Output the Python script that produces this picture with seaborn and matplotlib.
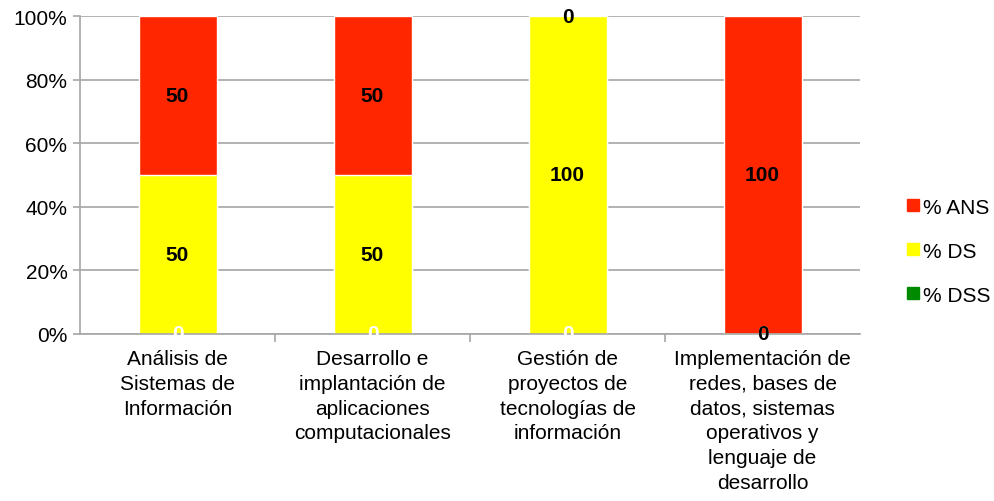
import pandas as pd
import numpy as np
import matplotlib
matplotlib.use('Agg')
import matplotlib.pyplot as plt
import seaborn as sns
from matplotlib.patches import Patch

categorias = ['Análisis de\nSistemas de\nInformación',
              'Desarrollo e\nimplantación de\naplicaciones\ncomputacionales',
              'Gestión de\nproyectos de\ntecnologías de\ninformación',
              'Implementación de\nredes, bases de\ndatos, sistemas\noperativos y\nlenguaje de\ndesarrollo']
dss = [0, 0, 0, 0]
ds = [50, 50, 100, 0]
ans = [50, 50, 0, 100]

c_ans = '#ff2600'
c_ds = '#ffff00'
c_dss = '#008a00'

sns.set_style('white')
plt.rcParams['font.family'] = ['Liberation Sans', 'DejaVu Sans']
plt.rcParams['text.color'] = 'black'
plt.rcParams['xtick.color'] = 'black'
plt.rcParams['ytick.color'] = 'black'

df = pd.DataFrame({'cat': categorias, 'dss': dss, 'ds': ds, 'ans': ans})
df['low'] = df.dss
df['mid'] = df.dss + df.ds
df['top'] = df.dss + df.ds + df.ans

fig = plt.figure(figsize=(9.95, 5.02), dpi=100)
ax = fig.add_axes([0.0804, 0.333, 0.784, 0.633])
ax.set_axisbelow(True)
ax.yaxis.grid(True, color='#a6a6a6', linewidth=1.2)

wd = 0.4
sns.barplot(data=df, x='cat', y='top', color=c_ans, width=wd, saturation=1, ax=ax)
sns.barplot(data=df, x='cat', y='mid', color=c_ds, width=wd, saturation=1, ax=ax)
sns.barplot(data=df, x='cat', y='low', color=c_dss, width=wd, saturation=1, ax=ax)

for i in range(len(categorias)):
    ax.text(i, df.low[i] / 2, str(dss[i]), ha='center', va='center', color='white',
            fontsize=15, fontweight='bold')
    ax.text(i, df.low[i] + ds[i] / 2, str(ds[i]), ha='center', va='center', color='black',
            fontsize=15, fontweight='bold')
    ax.text(i, df.mid[i] + ans[i] / 2, str(ans[i]), ha='center', va='center', color='black',
            fontsize=15, fontweight='bold')

ax.set_ylim(0, 100)
ax.set_xlim(-0.5, 3.5)
ax.set_yticks([0, 20, 40, 60, 80, 100])
ax.set_yticklabels(['0%', '20%', '40%', '60%', '80%', '100%'], fontsize=15)
ax.set_xticks(range(4))
ax.set_xticklabels(categorias, fontsize=15, va='top', linespacing=1.38)
ax.set_xticks([0.5, 1.5, 2.5], minor=True)
ax.tick_params(axis='x', which='major', length=0, pad=11)
ax.tick_params(axis='x', which='minor', length=6, color='#a6a6a6', bottom=True, width=1.2)
ax.tick_params(axis='y', length=5, color='#a6a6a6', left=True, width=1.2, pad=4)
ax.set_xlabel('')
ax.set_ylabel('')
for s in ['top', 'right']:
    ax.spines[s].set_visible(False)
for s in ['left', 'bottom']:
    ax.spines[s].set_color('#a6a6a6')
    ax.spines[s].set_linewidth(1.2)

handles = [Patch(color=c_ans, label='% ANS'), Patch(color=c_ds, label='% DS'),
           Patch(color=c_dss, label='% DSS')]
fig.legend(handles=handles, loc='center left', bbox_to_anchor=(0.912, 0.498), frameon=False,
           fontsize=15, handlelength=0.55, handleheight=0.55, handletextpad=0.2, labelspacing=1.2,
           borderpad=0, borderaxespad=0)

plt.savefig('out.png', dpi=100)
plt.close()
